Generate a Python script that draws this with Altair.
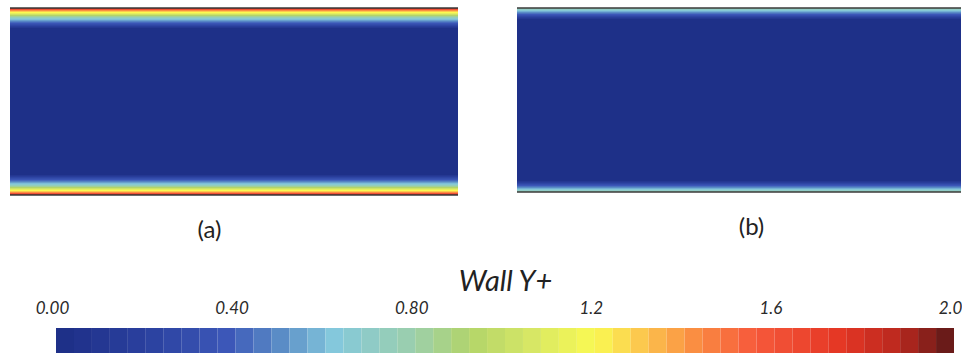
import altair as alt
import numpy as np
import pandas as pd

# Wall Y+ colour map (piecewise stops)
cmap_stops = [0.0, 0.2, 0.38, 0.5, 0.62, 0.8, 0.92, 1.05, 1.2, 1.3, 1.42, 1.55, 1.75, 1.88, 2.0]
cmap_colors = ["#1d2e86", "#2a409e", "#3c57b8", "#5a8cc6", "#84c8dc", "#9ccfaa",
               "#b2d46a", "#d4e666", "#fafa52", "#fcc94e", "#fa8e42", "#f75b3c",
               "#e43624", "#b8281e", "#5a1818"]

# Near-wall Y+ profiles; edges are distances from the wall in % of channel height
edges_a = [0.0, 0.5, 1.1, 1.6, 2.1, 2.7, 3.2, 3.7, 4.3, 4.8, 5.3,
           5.9, 6.4, 7.0, 7.5, 8.0, 8.6, 9.1, 9.6, 10.2, 10.7]
yplus_a = [1.85, 1.6, 1.42, 1.3, 1.2, 1.12, 1.02, 0.92, 0.83, 0.74,
           0.66, 0.6, 0.54, 0.48, 0.42, 0.36, 0.3, 0.24, 0.17, 0.1]
edges_b = [0.0, 0.5, 1.1, 1.6, 2.2, 2.7, 3.3, 3.8, 4.3, 4.9, 5.4, 6.0]
yplus_b = [0.76, 0.7, 0.64, 0.57, 0.5, 0.44, 0.38, 0.31, 0.24, 0.17, 0.1]
core_yplus = 0.02

channel_len = 1.0
walls = [0.0, 100.0]

# Colour-bar levels and tick values
bar_levels = np.linspace(0.0, 2.0, 51)
bar_ticks = [0.0, 0.4, 0.8, 1.2, 1.6, 2.0]
bar_lead = 0.1025

cscale = alt.Scale(domain=cmap_stops, range=cmap_colors, type="linear",
                   clamp=True, interpolate="rgb")


def field_frame(edges, values):
    rows = []
    for i, v in enumerate(values):
        rows.append(dict(x0=0.0, x1=channel_len, y0=100 - edges[i], y1=100 - edges[i + 1], v=v))
        rows.append(dict(x0=0.0, x1=channel_len, y0=edges[i], y1=edges[i + 1], v=v))
    n = len(values)
    rows.append(dict(x0=0.0, x1=channel_len, y0=edges[n], y1=100 - edges[n], v=core_yplus))
    return pd.DataFrame(rows)


def panel(edges, values, label, label_x, w, h):
    xaxis = alt.Axis(title=label, labels=False, ticks=False, domain=False, grid=False,
                     titleX=label_x, titleY=35, titleBaseline="middle", titleAlign="center",
                     titleFont="Lato", titleFontSize=24, titleFontWeight="normal",
                     titleColor="#222222")
    xs = alt.Scale(domain=[0, channel_len], nice=False, zero=False)
    ys = alt.Scale(domain=[0, 100], nice=False, zero=False)
    field = alt.Chart(field_frame(edges, values)).mark_rect(strokeWidth=0).encode(
        x=alt.X("x0:Q", scale=xs, axis=xaxis),
        x2="x1:Q",
        y=alt.Y("y0:Q", scale=ys, axis=None),
        y2="y1:Q",
        color=alt.Color("v:Q", scale=cscale, legend=None),
    )
    wall_df = pd.DataFrame({"x0": [0.0, 0.0], "x1": [channel_len, channel_len], "w": walls})
    wall = alt.Chart(wall_df).mark_rule(color="#3a3a3a", strokeWidth=1.6).encode(
        x=alt.X("x0:Q", scale=xs, axis=xaxis),
        x2="x1:Q",
        y=alt.Y("w:Q", scale=ys, axis=None),
    )
    return alt.layer(field, wall).properties(width=w, height=h)


panel_a = panel(edges_a, yplus_a, "(a)", 199, 448, 187)
panel_b = panel(edges_b, yplus_b, "(b)", 234, 444, 184)

bar_df = pd.DataFrame({
    "lo": bar_levels[:-1],
    "hi": bar_levels[1:],
    "mid": (bar_levels[:-1] + bar_levels[1:]) / 2,
})

colorbar = alt.Chart(bar_df).mark_rect(strokeWidth=0).encode(
    x=alt.X("lo:Q",
            scale=alt.Scale(domain=[-bar_lead, 2.0], nice=False, zero=False),
            axis=alt.Axis(orient="top", values=bar_ticks,
                          labelExpr="datum.value < 1 ? format(datum.value, '.2f') : format(datum.value, '.1f')",
                          ticks=False, tickSize=0, domain=False, grid=False,
                          labelFlush=False, labelOverlap=False, labelPadding=11,
                          labelOffset=-4,
                          labelFont="Lato", labelFontSize=17, labelFontStyle="italic",
                          labelColor="#2a2a2a",
                          title="Wall Y+", titleFont="Lato", titleFontSize=29,
                          titleFontStyle="italic", titleFontWeight="normal",
                          titleColor="#222222", titleX=495, titleY=-47,
                          titleBaseline="middle", titleAlign="center")),
    x2="hi:Q",
    color=alt.Color("mid:Q", scale=cscale, legend=None),
).properties(width=944, height=25)

top_row = alt.hconcat(panel_a, panel_b, spacing=59, bounds="flush")

chart = alt.vconcat(top_row, colorbar, spacing=25).properties(
    padding={"left": 9, "top": 7, "right": 0, "bottom": 0},
    background="white",
).configure_view(stroke=None)

chart.save("out.html", embed_options={"renderer": "svg", "actions": False})
